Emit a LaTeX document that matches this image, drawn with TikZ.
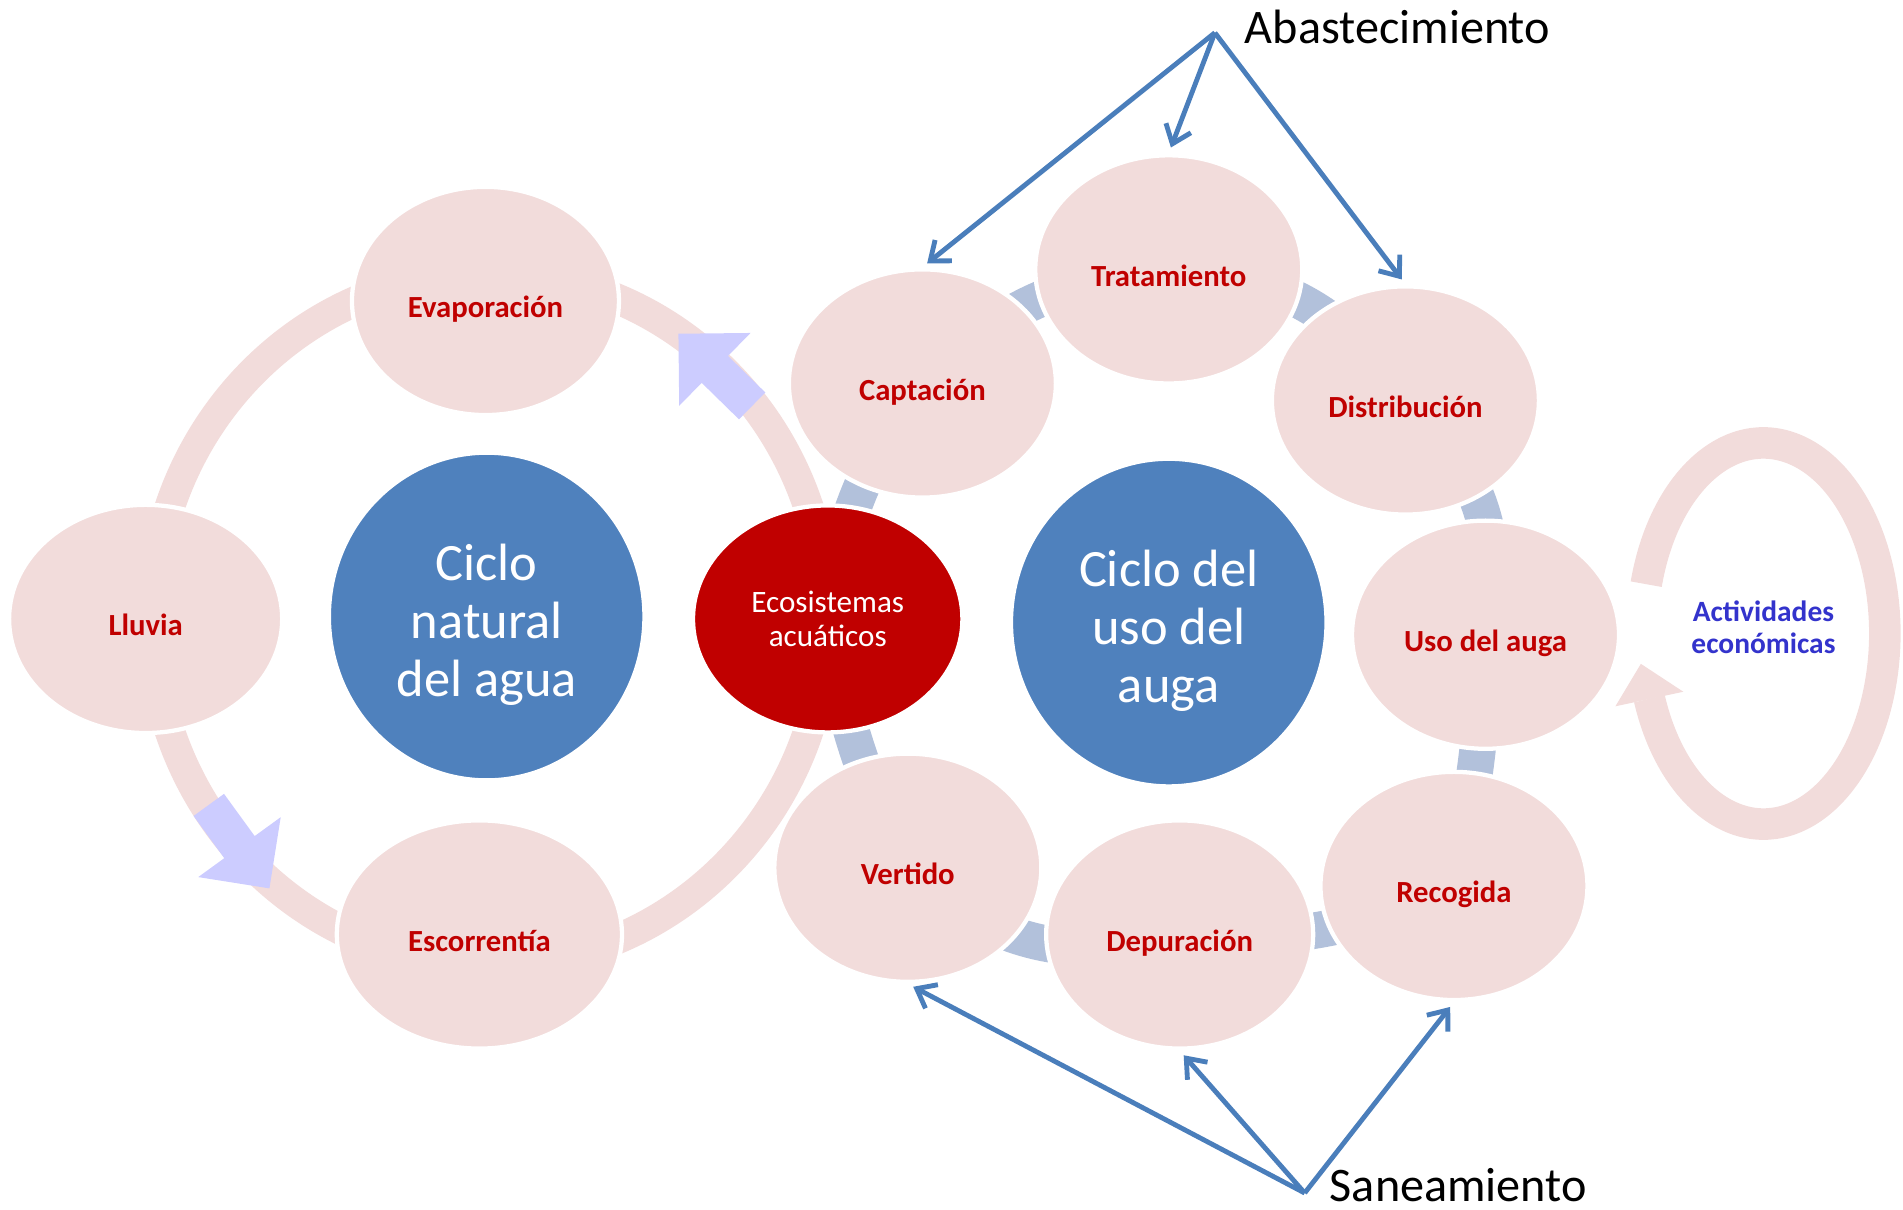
\documentclass[tikz,border=0pt]{standalone}
\usepackage{fontspec}
\setmainfont{Carlito}
\usetikzlibrary{shapes.geometric,arrows.meta,backgrounds}

\definecolor{stagepink}{RGB}{242,220,219}
\definecolor{stagered}{RGB}{192,0,0}
\definecolor{hubblue}{RGB}{79,129,189}
\definecolor{bandgrey}{RGB}{178,193,219}
\definecolor{flowlilac}{RGB}{204,204,255}
\definecolor{linkblue}{RGB}{74,126,187}
\definecolor{actblue}{RGB}{51,51,204}

% block arrow on the ring: tip, direction
\newcommand{\ringarrow}[2]{%
	\fill[flowlilac,shift={#1},rotate=#2] (0,0) -- (-0.42,0.42) -- (-0.42,0.155) -- (-0.85,0.155)
		-- (-0.85,-0.155) -- (-0.42,-0.155) -- (-0.42,-0.42) -- cycle;}

\begin{document}
\begin{tikzpicture}
	
	\tikzset{stage/.style={ellipse,draw=white,line width=1pt,fill=stagepink,inner sep=0pt,
			minimum width=2.2cm,minimum height=1.88cm,text=stagered,text height=0.34cm,text depth=0.06cm,
			font=\fontsize{7.2}{8.6}\selectfont\bfseries}}
	\tikzset{hub/.style={ellipse,draw=white,line width=1pt,fill=hubblue,inner sep=0pt,
			minimum width=2.6cm,minimum height=2.7cm}}
	\tikzset{hubtext/.style={text=white,align=center,inner sep=0pt,font=\fontsize{12.3}{13.6}\selectfont}}
	\tikzset{band/.style={bandgrey,line width=0.3cm}}
	\tikzset{link/.style={linkblue,line width=0.04cm,-{Straight Barb[length=1.4mm,width=2.2mm]},shorten >=0.05cm}}
	\tikzset{caption/.style={inner sep=0pt,font=\fontsize{11.3}{13}\selectfont}}
	
	\useasboundingbox (0,0) rectangle (15.68,9.97);
	
	% natural cycle
	
	\node[hub] (natural) at (4.01,4.89) {};
	\node[hubtext] (naturaltext) at ([yshift=-0.07cm]natural.center) {Ciclo\\natural\\del agua};
	\node[stage] (evap) at (4.00,7.49) {Evaporación};
	\node[stage,minimum width=2.25cm] (lluvia) at (1.20,4.87) {Lluvia};
	\node[stage,minimum width=2.35cm] (escor) at (3.95,2.27) {Escorrentía};
	\node[stage,fill=stagered,text=white,align=center,minimum width=2.22cm,minimum height=1.87cm,
		text height=,text depth=,font=\fontsize{7.3}{8}\selectfont] (eco) at (6.82,4.87) {Ecosistemas\\acuáticos};
	
	\ringarrow{(5.59,7.22)}{135.6}
	\ringarrow{(2.22,2.65)}{-54}
	
	% use cycle
	
	\node[hub] (usohub) at (9.63,4.84) {};
	\node[hubtext] (usohubtext) at ([yshift=-0.07cm]usohub.center) {Ciclo del\\uso del\\auga};
	\node[stage] (capt) at (7.60,6.81) {Captación};
	\node[stage] (trat) at (9.63,7.75) {Tratamiento};
	\node[stage] (dist) at (11.58,6.67) {Distribución};
	\node[stage] (uso) at (12.24,4.74) {Uso del auga};
	\node[stage] (recog) at (11.98,2.67) {Recogida};
	\node[stage] (depur) at (9.72,2.27) {Depuración};
	\node[stage] (vert) at (7.48,2.82) {Vertido};
	
	\begin{pgfonlayer}{background}
		\draw[stagepink,line width=0.25cm] (4.03,4.87) ellipse [x radius=2.78,y radius=2.85];
		\foreach \a/\b/\k in {eco/capt/14,capt/trat/20,trat/dist/27,dist/uso/30,
			uso/recog/5,recog/depur/14,depur/vert/30,vert/eco/9}
			\draw[band] (\a.center) to[bend left=\k] (\b.center);
	\end{pgfonlayer}
	
	% economic activities
	
	\draw[stagepink,line width=0.26cm] (14.53,4.75) ++(165:1cm and 1.57cm)
		arc[start angle=165,end angle=-160,x radius=1,y radius=1.57];
	\fill[stagepink] (13.31,4.15) -- (13.52,4.50) -- (13.87,4.27) -- cycle;
	\node[text=actblue,align=center,font=\fontsize{6.9}{7.5}\selectfont\bfseries] (activ) at (14.53,4.80) {Actividades\\económicas};
	
	% supply and sanitation
	
	\coordinate (abastpt) at (10.01,9.70);
	\node[caption,anchor=base west] (abast) at (10.25,9.61) {Abastecimiento};
	\foreach \n in {capt,trat,dist}
		\draw[link] (abastpt) -- (\n.north);
	
	\coordinate (sanpt) at (10.75,0.14);
	\node[caption,anchor=base west] (san) at (10.95,0.07) {Saneamiento};
	\foreach \n in {vert,depur,recog}
		\draw[link] (sanpt) -- (\n.south);
	
\end{tikzpicture}
\end{document}
